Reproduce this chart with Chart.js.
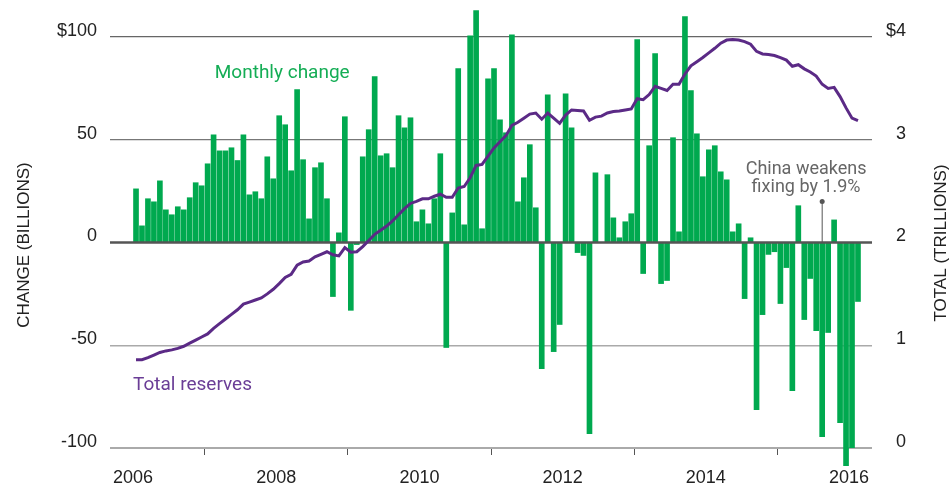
<!DOCTYPE html>
<html>
<head>
<meta charset="utf-8">
<script src="https://cdn.jsdelivr.net/npm/chart.js@4.4.1/dist/chart.umd.min.js"></script>
<style>
  html, body { margin: 0; padding: 0; background: #fff; }
</style>
</head>
<body>
<canvas id="reservesChart" width="952" height="486"></canvas>
<script>
// monthly points, Jan 2006 .. Feb 2016
const months = [];
for (let yr = 2006; yr <= 2016; yr++) {
  for (let mo = 1; mo <= 12; mo++) {
    if (yr === 2016 && mo > 2) break;
    months.push(yr + '-' + String(mo).padStart(2, '0'));
  }
}

// change in reserves, billions of dollars
const monthlyChange = [
  26.1, 8.1, 21.3, 19.8, 30.0, 15.9, 13.5, 17.4, 15.9, 21.8, 29.1, 27.6,
  38.3, 52.4, 44.6, 44.6, 46.1, 39.9, 52.4, 23.2, 24.7, 21.3, 41.7, 31.0,
  61.7, 57.3, 34.9, 74.4, 40.3, 11.5, 36.4, 38.8, 21.3, -26.3, 4.7, 61.2,
  -33.0, -1.0, 41.7, 54.9, 80.7, 42.2, 43.2, 36.4, 61.7, 55.8, 60.7, 10.1,
  15.9, 9.1, 21.3, 43.2, -51.1, 14.4, 84.6, 8.6, 100.6, 112.8, 6.7, 79.7,
  84.6, 59.7, 53.4, 101.1, 19.8, 31.5, 47.6, 16.9, -61.4, 71.9, -53.1, -39.9,
  72.4, 55.8, -4.9, -6.3, -93.0, 33.9, 0, 33.0, 12.0, 2.3, 10.1, 14.0,
  98.7, -15.1, 47.1, 91.9, -20.0, -18.5, 51.0, 5.2, 109.9, 73.9, 52.9, 32.0,
  45.1, 47.1, 34.4, 30.5, 5.2, 9.1, -27.3, 2.3, -81.3, -35.1, -5.8, -4.5,
  -29.7, -12.2, -72.1, 17.9, -37.5, -17.5, -42.9, -94.5, -43.8, 11.0, -87.7, -108.6,
  -99.8, -28.7
];

// total reserves, trillions of dollars
const totalReserves = [
  0.86, 0.86, 0.88, 0.905, 0.93, 0.945, 0.955, 0.97, 0.99, 1.02, 1.05, 1.08,
  1.11, 1.165, 1.21, 1.255, 1.30, 1.345, 1.40, 1.42, 1.44, 1.46, 1.50, 1.545,
  1.60, 1.66, 1.69, 1.78, 1.81, 1.82, 1.86, 1.885, 1.91, 1.88, 1.87, 1.95,
  1.905, 1.91, 1.96, 2.02, 2.08, 2.12, 2.16, 2.21, 2.27, 2.33, 2.38, 2.40,
  2.425, 2.425, 2.45, 2.47, 2.44, 2.44, 2.53, 2.545, 2.63, 2.75, 2.76, 2.84,
  2.92, 2.98, 3.04, 3.14, 3.17, 3.21, 3.25, 3.26, 3.20, 3.26, 3.21, 3.16,
  3.24, 3.29, 3.285, 3.28, 3.19, 3.22, 3.23, 3.26, 3.275, 3.28, 3.29, 3.30,
  3.40, 3.39, 3.44, 3.52, 3.50, 3.48, 3.54, 3.54, 3.64, 3.72, 3.76, 3.80,
  3.845, 3.89, 3.94, 3.97, 3.975, 3.97, 3.955, 3.93, 3.86, 3.835, 3.83, 3.82,
  3.80, 3.775, 3.715, 3.73, 3.69, 3.66, 3.62, 3.54, 3.50, 3.51, 3.42, 3.31,
  3.21, 3.185
];

const yearLabels = ['2006', '2008', '2010', '2012', '2014', '2016'];
const changeTicks = ['-100', '-50', '0', '50', '$100'];
const totalTicks = ['0', '1', '2', '3', '$4'];
const fixingMonth = '2015-08';

const green = '#00a94f';
const purple = '#5b2a86';
const tickFont = { family: '"Liberation Sans", Arial, sans-serif', size: 18 };

// grid line look per value on the left axis
function gridColor(v) {
  if (v === 0) return 'rgba(0,0,0,0)'; // zero line drawn over the bars
  if (v > 0) return v === 100 ? '#666' : '#777';
  return '#aaa';
}
function gridWidth(v) {
  if (v === -100) return 2;
  if (v < 0) return 1.5;
  return 1.2;
}

const overlay = {
  id: 'overlay',
  afterDatasetDraw(chart, args) {
    if (args.index !== 0) return;
    const { ctx, chartArea, scales } = chart;
    const y0 = scales.y.getPixelForValue(0);
    ctx.save();
    ctx.strokeStyle = '#555';
    ctx.lineWidth = 2.5;
    ctx.beginPath();
    ctx.moveTo(chartArea.left, y0);
    ctx.lineTo(chartArea.right, y0);
    ctx.stroke();
    ctx.restore();
  },
  afterDraw(chart) {
    const { ctx, scales: { x, y } } = chart;
    ctx.save();

    // axis titles, both read bottom to top
    ctx.font = '17px "Liberation Sans", Arial, sans-serif';
    ctx.fillStyle = '#222';
    ctx.textAlign = 'center';
    ctx.textBaseline = 'middle';
    ctx.save();
    ctx.translate(24, 245);
    ctx.rotate(-Math.PI / 2);
    ctx.fillText('CHANGE (BILLIONS)', 0, 0);
    ctx.restore();
    ctx.save();
    ctx.translate(941, 243);
    ctx.rotate(-Math.PI / 2);
    ctx.fillText('TOTAL (TRILLIONS)', 0, 0);
    ctx.restore();

    // series labels
    ctx.font = '19px Roboto, sans-serif';
    ctx.textAlign = 'left';
    ctx.textBaseline = 'alphabetic';
    ctx.fillStyle = '#14ad55';
    ctx.fillText('Monthly change', x.getPixelForValue(13.2), y.getPixelForValue(80));
    ctx.fillStyle = '#6a3d96';
    ctx.fillText('Total reserves', x.getPixelForValue(-0.5), y.getPixelForValue(-71.7));

    // devaluation note
    ctx.font = '18px Roboto, sans-serif';
    const fi = months.indexOf(fixingMonth);
    const fx = x.getPixelForValue(fi);
    const top = y.getPixelForValue(20);
    ctx.strokeStyle = '#555';
    ctx.lineWidth = 1;
    ctx.beginPath();
    ctx.moveTo(fx, top);
    ctx.lineTo(fx, y.getPixelForValue(0));
    ctx.stroke();
    ctx.fillStyle = '#555';
    ctx.beginPath();
    ctx.arc(fx, top, 2.5, 0, Math.PI * 2);
    ctx.fill();
    ctx.fillStyle = '#666';
    ctx.textAlign = 'center';
    const tx = x.getPixelForValue(fi - 2.7);
    ctx.fillText('China weakens', tx, y.getPixelForValue(33.4));
    ctx.fillText('fixing by 1.9%', tx, y.getPixelForValue(24.7));
    ctx.restore();
  }
};

const ctx = document.getElementById('reservesChart').getContext('2d');
const reservesChart = new Chart(ctx, {
  type: 'bar',
  data: {
    datasets: [{
      type: 'bar',
      label: 'Monthly change',
      data: monthlyChange.map((v, i) => ({ x: i, y: v })),
      backgroundColor: green,
      barThickness: 5,
      yAxisID: 'y',
      order: 1,
      clip: false
    }, {
      type: 'line',
      label: 'Total reserves',
      data: totalReserves.map((v, i) => ({ x: i, y: v })),
      borderColor: purple,
      borderWidth: 3,
      pointRadius: 0,
      tension: 0,
      yAxisID: 'y2',
      order: 0,
      clip: false
    }]
  },
  options: {
    responsive: false,
    animation: false,
    layout: { padding: { top: 37, right: 46, bottom: 0, left: 0 } },
    plugins: { legend: { display: false }, tooltip: { enabled: false } },
    scales: {
      x: {
        type: 'linear',
        min: -4.36,
        max: 123.35,
        offset: false,
        afterFit: s => { s.height = 38; },
        afterBuildTicks: s => {
          s.ticks = yearLabels.map(l => ({ value: months.indexOf(l + '-01') - 0.5 }));
        },
        border: { display: false },
        grid: { drawOnChartArea: false, drawTicks: true, tickLength: 7, color: '#555', lineWidth: 1 },
        ticks: {
          autoSkip: false, maxRotation: 0, padding: 12,
          color: '#222', font: tickFont,
          callback: (v, i) => yearLabels[i]
        }
      },
      y: {
        position: 'left',
        min: -100,
        max: 100,
        afterFit: s => { s.width = 110; },
        border: { display: false },
        grid: {
          drawTicks: false,
          color: c => gridColor(c.tick.value),
          lineWidth: c => gridWidth(c.tick.value)
        },
        ticks: {
          stepSize: 50, padding: 13, labelOffset: -6,
          color: '#222', font: tickFont,
          callback: (v, i) => changeTicks[i]
        }
      },
      y2: {
        position: 'right',
        min: 0,
        max: 4,
        afterFit: s => { s.width = 34; },
        border: { display: false },
        grid: { display: false },
        ticks: {
          stepSize: 1, crossAlign: 'far', labelOffset: -6,
          color: '#222', font: tickFont,
          callback: (v, i) => totalTicks[i]
        }
      }
    }
  },
  plugins: [overlay]
});
</script>
</body>
</html>
